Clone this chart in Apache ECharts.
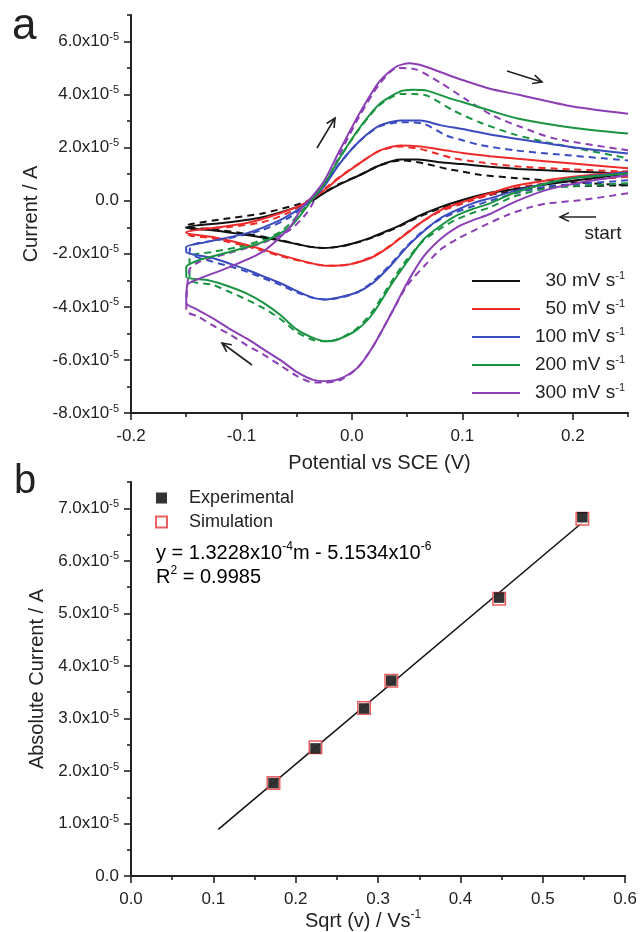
<!DOCTYPE html>
<html><head><meta charset="utf-8">
<script src="https://cdn.jsdelivr.net/npm/echarts@6/dist/echarts.min.js"></script>
<style>html,body{margin:0;padding:0;background:#fff}#c{width:640px;height:932px}</style>
</head><body><div id="c"></div>
<script>
// ===== Data (currents in units of 1e-5 A) =====
// Panel a: cyclic voltammograms [potential V, current]
const exp30 = [[0.25,1.03],[0.2,0.75],[0.177,0.62],[0.15,0.45],[0.125,0.3],[0.1,0.03],[0.08,-0.24],[0.06,-0.58],[0.044,-0.92],[0.03,-1.17],[0.016,-1.41],[0,-1.62],[-0.011,-1.72],[-0.025,-1.78],[-0.04,-1.72],[-0.065,-1.5],[-0.095,-1.29],[-0.125,-1.12],[-0.15,-1.03],
  [-0.15,-0.99],[-0.111,-0.81],[-0.081,-0.62],[-0.05,-0.24],[-0.036,0.0],[-0.025,0.3],[-0.011,0.62],[0.007,0.96],[0.025,1.33],[0.044,1.55],[0.06,1.55],[0.08,1.45],[0.1,1.38],[0.125,1.28],[0.15,1.2],[0.2,1.1],[0.25,1.02]];
const sim30 = [[0.25,0.58],[0.2,0.55],[0.177,0.5],[0.15,0.38],[0.125,0.22],[0.1,-0.02],[0.08,-0.28],[0.06,-0.62],[0.044,-0.95],[0.03,-1.2],[0.016,-1.43],[0,-1.63],[-0.011,-1.73],[-0.025,-1.78],[-0.04,-1.72],[-0.065,-1.48],[-0.095,-1.25],[-0.125,-1.08],[-0.15,-0.98],
  [-0.148,-0.9],[-0.111,-0.66],[-0.081,-0.48],[-0.05,-0.15],[-0.036,0.05],[-0.025,0.32],[-0.011,0.64],[0.007,0.97],[0.025,1.33],[0.044,1.52],[0.065,1.41],[0.086,1.2],[0.1,1.1],[0.116,0.98],[0.15,0.85],[0.2,0.7],[0.25,0.58]];
const exp50 = [[0.25,1.1],[0.2,0.9],[0.177,0.77],[0.15,0.58],[0.125,0.28],[0.11,0.09],[0.095,-0.12],[0.08,-0.36],[0.065,-0.75],[0.05,-1.22],[0.035,-1.7],[0.019,-2.12],[0,-2.38],[-0.011,-2.44],[-0.023,-2.45],[-0.035,-2.37],[-0.065,-2.04],[-0.095,-1.67],[-0.126,-1.37],[-0.15,-1.22],
  [-0.15,-1.18],[-0.126,-1.03],[-0.095,-0.84],[-0.065,-0.47],[-0.041,-0.06],[-0.025,0.4],[-0.011,0.88],[0.007,1.41],[0.025,1.89],[0.044,2.08],[0.062,2.04],[0.086,1.89],[0.1,1.8],[0.125,1.68],[0.15,1.58],[0.2,1.4],[0.25,1.22]];
const sim50 = [[0.25,0.9],[0.2,0.75],[0.177,0.66],[0.15,0.5],[0.125,0.22],[0.11,0.03],[0.095,-0.18],[0.08,-0.4],[0.065,-0.75],[0.05,-1.2],[0.035,-1.68],[0.019,-2.1],[0,-2.38],[-0.011,-2.44],[-0.023,-2.45],[-0.035,-2.38],[-0.065,-2.08],[-0.095,-1.72],[-0.126,-1.42],[-0.148,-1.28],
  [-0.146,-1.1],[-0.111,-0.99],[-0.081,-0.81],[-0.056,-0.43],[-0.04,0.0],[-0.025,0.45],[-0.011,0.9],[0.007,1.42],[0.025,1.88],[0.044,2.04],[0.062,1.95],[0.075,1.8],[0.092,1.6],[0.116,1.45],[0.147,1.3],[0.2,1.18],[0.25,1.1]];
const exp100 = [[0.25,1.07],[0.2,0.85],[0.177,0.66],[0.15,0.4],[0.125,0.09],[0.11,-0.09],[0.095,-0.35],[0.08,-0.66],[0.065,-1.15],[0.05,-1.74],[0.035,-2.45],[0.019,-3.1],[0.005,-3.45],[-0.011,-3.64],[-0.023,-3.72],[-0.035,-3.66],[-0.05,-3.4],[-0.065,-3.1],[-0.08,-2.85],[-0.095,-2.6],[-0.11,-2.38],[-0.126,-2.16],[-0.15,-1.93],
  [-0.15,-1.74],[-0.132,-1.56],[-0.095,-1.22],[-0.065,-0.73],[-0.045,-0.24],[-0.036,0.05],[-0.025,0.55],[-0.011,1.4],[0.007,2.25],[0.025,2.83],[0.044,3.02],[0.062,3.02],[0.08,2.85],[0.1,2.7],[0.125,2.5],[0.15,2.33],[0.2,2.02],[0.25,1.78]];
const sim100 = [[0.25,0.77],[0.2,0.62],[0.177,0.54],[0.15,0.3],[0.125,0.0],[0.11,-0.2],[0.095,-0.42],[0.08,-0.7],[0.065,-1.12],[0.05,-1.7],[0.035,-2.4],[0.019,-3.05],[0.005,-3.45],[-0.011,-3.66],[-0.023,-3.72],[-0.035,-3.66],[-0.05,-3.45],[-0.065,-3.17],[-0.08,-2.92],[-0.095,-2.68],[-0.11,-2.48],[-0.126,-2.3],[-0.147,-1.97],
  [-0.145,-1.67],[-0.111,-1.41],[-0.081,-1.1],[-0.056,-0.62],[-0.04,-0.05],[-0.025,0.6],[-0.011,1.42],[0.007,2.25],[0.025,2.8],[0.044,2.96],[0.065,2.9],[0.086,2.45],[0.1,2.28],[0.116,2.1],[0.147,1.9],[0.177,1.78],[0.25,1.52]];
const exp200 = [[0.25,1.03],[0.2,0.85],[0.177,0.66],[0.146,0.28],[0.125,-0.1],[0.11,-0.3],[0.095,-0.55],[0.08,-0.95],[0.065,-1.45],[0.05,-2.3],[0.035,-3.2],[0.019,-4.25],[0.005,-4.85],[-0.011,-5.2],[-0.023,-5.3],[-0.035,-5.17],[-0.05,-4.85],[-0.065,-4.3],[-0.08,-3.85],[-0.095,-3.5],[-0.11,-3.25],[-0.13,-3.0],[-0.15,-2.87],
  [-0.15,-2.5],[-0.138,-2.23],[-0.111,-1.93],[-0.081,-1.56],[-0.056,-0.99],[-0.041,-0.24],[-0.036,0.05],[-0.025,0.62],[-0.011,1.62],[0.007,2.75],[0.025,3.65],[0.044,4.12],[0.055,4.18],[0.068,4.15],[0.089,3.85],[0.1,3.72],[0.125,3.4],[0.15,3.1],[0.2,2.75],[0.25,2.53]];
const sim200 = [[0.25,0.66],[0.2,0.55],[0.177,0.47],[0.146,0.15],[0.125,-0.25],[0.11,-0.45],[0.095,-0.7],[0.08,-1.05],[0.065,-1.5],[0.05,-2.2],[0.035,-3.1],[0.019,-4.15],[0.005,-4.8],[-0.011,-5.2],[-0.023,-5.3],[-0.035,-5.25],[-0.05,-4.95],[-0.065,-4.45],[-0.08,-4.05],[-0.095,-3.73],[-0.11,-3.45],[-0.126,-3.17],[-0.147,-2.98],
  [-0.147,-2.12],[-0.126,-1.93],[-0.095,-1.67],[-0.065,-1.18],[-0.047,-0.47],[-0.036,0.1],[-0.025,0.65],[-0.011,1.62],[0.007,2.72],[0.025,3.6],[0.044,4.02],[0.055,4.02],[0.068,3.96],[0.092,3.4],[0.116,2.95],[0.147,2.5],[0.177,2.2],[0.25,1.6]];
const exp300 = [[0.25,0.96],[0.207,0.69],[0.177,0.42],[0.147,-0.05],[0.125,-0.5],[0.11,-0.73],[0.095,-1.0],[0.08,-1.45],[0.065,-2.1],[0.05,-3.1],[0.035,-4.3],[0.019,-5.5],[0.005,-6.3],[-0.01,-6.7],[-0.023,-6.8],[-0.035,-6.75],[-0.05,-6.45],[-0.065,-6.0],[-0.08,-5.6],[-0.095,-5.2],[-0.11,-4.85],[-0.125,-4.45],[-0.14,-4.1],[-0.15,-3.85],
  [-0.149,-3.17],[-0.141,-2.98],[-0.111,-2.5],[-0.081,-1.93],[-0.056,-0.99],[-0.045,-0.24],[-0.036,0.15],[-0.025,0.75],[-0.011,1.9],[0.007,3.3],[0.025,4.5],[0.04,5.05],[0.052,5.18],[0.065,5.08],[0.089,4.71],[0.1,4.55],[0.125,4.22],[0.15,4.0],[0.2,3.55],[0.25,3.28]];
const sim300 = [[0.25,0.28],[0.207,0.02],[0.177,-0.1],[0.162,-0.24],[0.14,-0.55],[0.119,-0.95],[0.095,-1.45],[0.08,-1.85],[0.068,-2.35],[0.05,-3.2],[0.035,-4.3],[0.019,-5.5],[0.005,-6.3],[-0.01,-6.75],[-0.025,-6.85],[-0.035,-6.85],[-0.05,-6.6],[-0.065,-6.2],[-0.08,-5.8],[-0.095,-5.45],[-0.11,-5.05],[-0.126,-4.7],[-0.14,-4.35],[-0.15,-4.15],
  [-0.147,-2.6],[-0.138,-2.3],[-0.111,-1.97],[-0.081,-1.59],[-0.056,-1.1],[-0.041,-0.47],[-0.03,0.3],[-0.02,0.9],[-0.011,1.75],[0.007,3.2],[0.025,4.4],[0.041,5.0],[0.056,4.97],[0.08,4.45],[0.104,3.8],[0.128,3.2],[0.153,2.78],[0.183,2.35],[0.25,1.9]];
const rateLabels = ['30 mV s-1','50 mV s-1','100 mV s-1','200 mV s-1','300 mV s-1'];
const rateColors = ['#111111','#ee2b2b','#3a4bbf','#1a9442','#8b3fb5'];

// Panel b: peak current vs sqrt(scan rate)
const sqrtV = [0.173,0.224,0.283,0.316,0.447,0.548];
const expPeak = [1.77,2.43,3.19,3.72,5.30,6.83];
const simPeak = [1.77,2.45,3.20,3.72,5.28,6.80];
const fitLine = [[0.106,0.89],[0.548,6.73]];

// Axis ticks
const topXTicks = [-0.2,-0.1,0,0.1,0.2];
const topXMinor = [-0.15,-0.05,0.05,0.15,0.25];
const topYTicks = [-8,-6,-4,-2,0,2,4,6];
const topYMinor = [-7,-5,-3,-1,1,3,5,7];
const botXTicks = [0,0.1,0.2,0.3,0.4,0.5,0.6];
const botXMinor = [0.05,0.15,0.25,0.35,0.45,0.55];
const botYTicks = [0,1,2,3,4,5,6,7];
const botYMinor = [0.5,1.5,2.5,3.5,4.5,5.5,6.5,7.5];

// ===== Chart =====
const FF = 'Liberation Sans, Arial, sans-serif';
const INK = '#222';
const chart = echarts.init(document.getElementById('c'));

function sci(v){
  if (Math.abs(v) < 1e-9) return '{b|0.0}';
  return '{b|' + v.toFixed(1) + 'x10}{s|-5}';
}
const sciRich = {
  b: {fontSize: 17, fontFamily: FF, color: INK, lineHeight: 20},
  s: {fontSize: 11, fontFamily: FF, color: INK, lineHeight: 12, verticalAlign: 'top'}
};
function zip(xs, ys){ return xs.map((x,i)=>[x, ys[i]]); }

function majorAxis(dim, grid, min, max, ticks, fmt, name, nameGap, namePad){
  return {
    type: 'value', gridIndex: grid, min: min, max: max,
    position: dim === 'x' ? 'bottom' : 'left',
    splitLine: {show: false},
    axisLine: {show: true, onZero: false, lineStyle: {color: INK, width: 2}},
    axisTick: {show: true, inside: false, length: 7, customValues: ticks, lineStyle: {color: INK, width: 1.6}},
    axisLabel: {show: true, customValues: ticks, formatter: fmt, margin: dim === 'x' ? 15 : 12,
      fontSize: 17, fontFamily: FF, color: INK, rich: sciRich},
    name: name, nameLocation: 'middle', nameGap: nameGap,
    nameTextStyle: {fontSize: 20, fontFamily: FF, color: INK, padding: namePad || 0,
      rich: {b: {fontSize: 20, fontFamily: FF, color: INK, lineHeight: 24},
             s: {fontSize: 12, fontFamily: FF, color: INK, lineHeight: 13, verticalAlign: 'top'}}}
  };
}
function minorAxis(dim, grid, min, max, ticks){
  return {
    type: 'value', gridIndex: grid, min: min, max: max,
    position: dim === 'x' ? 'bottom' : 'left',
    splitLine: {show: false},
    axisLine: {show: false, onZero: false},
    axisTick: {show: true, inside: false, length: 4, customValues: ticks, lineStyle: {color: INK, width: 1.6}},
    axisLabel: {show: false}
  };
}

const cvSets = [[exp30, sim30],[exp50, sim50],[exp100, sim100],[exp200, sim200],[exp300, sim300]];
const series = [];
cvSets.forEach((pair, i) => {
  series.push({
    name: rateLabels[i], type: 'line', xAxisIndex: 0, yAxisIndex: 0,
    data: pair[0], symbol: 'none', smooth: 0.25, z: 3,
    lineStyle: {color: rateColors[i], width: 2},
    itemStyle: {color: rateColors[i]}
  });
  series.push({
    name: rateLabels[i] + ' sim', type: 'line', xAxisIndex: 0, yAxisIndex: 0,
    data: pair[1], symbol: 'none', smooth: 0.25, z: 2,
    lineStyle: {color: rateColors[i], width: 2, type: [7, 5]},
    itemStyle: {color: rateColors[i]}
  });
});
series.push({
  name: 'fit', type: 'line', xAxisIndex: 2, yAxisIndex: 2, data: fitLine,
  symbol: 'none', lineStyle: {color: '#111', width: 1.5}, z: 2
});
series.push({
  name: 'Simulation', type: 'scatter', xAxisIndex: 2, yAxisIndex: 2,
  data: zip(sqrtV, simPeak), symbol: 'rect', symbolSize: 12.5, z: 3,
  itemStyle: {color: '#ffffff', borderColor: '#e8383a', borderWidth: 1.5}
});
series.push({
  name: 'Experimental', type: 'scatter', xAxisIndex: 2, yAxisIndex: 2,
  data: zip(sqrtV, expPeak), symbol: 'rect', symbolSize: 10.5, z: 4,
  itemStyle: {color: '#000000'}
});

function arrow(x1, y1, x2, y2){
  const a = Math.atan2(y2 - y1, x2 - x1), L = 10, w = 0.45;
  return [
    {type: 'line', shape: {x1, y1, x2, y2}, style: {stroke: '#222', lineWidth: 1.6}},
    {type: 'polyline', shape: {points: [
      [x2 - L*Math.cos(a - w), y2 - L*Math.sin(a - w)], [x2, y2],
      [x2 - L*Math.cos(a + w), y2 - L*Math.sin(a + w)]]},
      style: {stroke: '#222', lineWidth: 1.6, fill: null}}
  ];
}
const eqRich = {
  t: {fontSize: 20, fontFamily: FF, color: INK, lineHeight: 24},
  s: {fontSize: 12, fontFamily: FF, color: INK, lineHeight: 13, verticalAlign: 'top'}
};

const option = {
  animation: false,
  backgroundColor: '#fff',
  grid: [
    {left: 131, right: 12, top: 15, height: 398},
    {left: 131, right: 13, top: 482, height: 398}
  ],
  xAxis: [
    majorAxis('x', 0, -0.2, 0.25, topXTicks, v => v.toFixed(1), 'Potential vs SCE (V)', 40),
    minorAxis('x', 0, -0.2, 0.25, topXMinor),
    majorAxis('x', 1, 0, 0.6, botXTicks, v => v.toFixed(1), '{b|Sqrt (v) / Vs}{s|-1}', 32, [0, 30, 0, 0]),
    minorAxis('x', 1, 0, 0.6, botXMinor)
  ],
  yAxis: [
    majorAxis('y', 0, -8, 7, topYTicks, sci, 'Current / A', 83),
    minorAxis('y', 0, -8, 7, topYMinor),
    majorAxis('y', 1, 0, 7.5, botYTicks, sci, 'Absolute Current / A', 83),
    minorAxis('y', 1, 0, 7.5, botYMinor)
  ],
  legend: [
    {
      data: rateLabels, orient: 'vertical', left: 467, top: 265,
      icon: 'rect', itemWidth: 48, itemHeight: 2, itemGap: 6, selectedMode: false,
      formatter: n => '{t|' + n.slice(0, -2) + '}{s|-1}',
      textStyle: {width: 100, lineHeight: 22, color: INK, fontFamily: FF,
        rich: {t: {fontSize: 19, fontFamily: FF, color: INK, align: 'right', lineHeight: 22},
               s: {fontSize: 11, fontFamily: FF, color: INK, align: 'right', lineHeight: 12, verticalAlign: 'top'}}}
    },
    {
      data: ['Experimental', 'Simulation'], orient: 'vertical', left: 150, top: 483,
      itemWidth: 11, itemHeight: 11, itemGap: 4, selectedMode: false,
      formatter: n => '{p|}{t|' + n + '}',
      textStyle: {lineHeight: 20, color: INK, fontFamily: FF,
        rich: {p: {width: 17}, t: {fontSize: 18, fontFamily: FF, color: INK, lineHeight: 20}}}
    }
  ],
  graphic: [
    {type: 'text', left: 12, top: 5, style: {text: 'a', fontSize: 44, fontFamily: FF, fill: INK}},
    {type: 'text', left: 14, top: 462, style: {text: 'b', fontSize: 40, fontFamily: FF, fill: INK}},
    {type: 'text', x: 156, y: 553, style: {text: '{t|y = 1.3228x10}{s|-4}{t|m - 5.1534x10}{s|-6}', rich: eqRich, verticalAlign: 'middle'}},
    {type: 'text', x: 156, y: 577, style: {text: '{t|R}{s|2}{t| = 0.9985}', rich: eqRich, verticalAlign: 'middle'}},
    {type: 'text', x: 603, y: 234, style: {text: 'start', fontSize: 19, fontFamily: FF, fill: INK, align: 'center', verticalAlign: 'middle'}}
  ].concat(arrow(317, 148, 335, 118), arrow(507, 71, 542, 82), arrow(596, 217, 560, 217), arrow(252, 365, 222, 343)),
  series: series
};
chart.setOption(option);
</script>
</body></html>
